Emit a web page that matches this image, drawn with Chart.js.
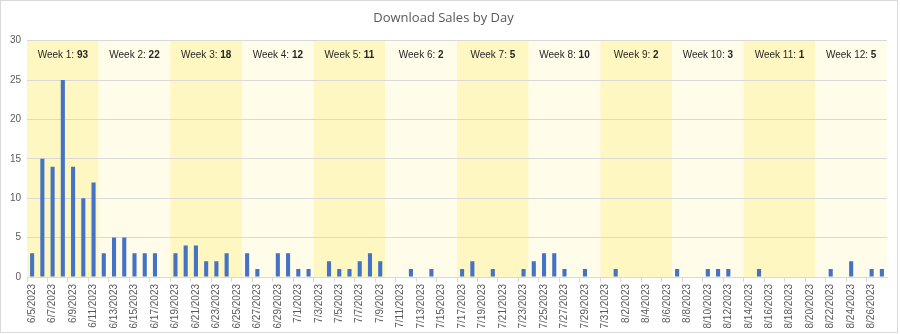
<!DOCTYPE html>
<html>
<head>
<meta charset="utf-8">
<script src="https://cdn.jsdelivr.net/npm/chart.js@4/dist/chart.umd.min.js"></script>
<style>
html,body{margin:0;padding:0;background:#fff;}
#wrap{width:900px;height:334px;position:relative;}
</style>
</head>
<body>
<div id="wrap"><canvas id="c" width="900" height="334"></canvas></div>
<script>
const days = [
"6/5/2023","6/6/2023","6/7/2023","6/8/2023","6/9/2023","6/10/2023","6/11/2023",
"6/12/2023","6/13/2023","6/14/2023","6/15/2023","6/16/2023","6/17/2023","6/18/2023",
"6/19/2023","6/20/2023","6/21/2023","6/22/2023","6/23/2023","6/24/2023","6/25/2023",
"6/26/2023","6/27/2023","6/28/2023","6/29/2023","6/30/2023","7/1/2023","7/2/2023",
"7/3/2023","7/4/2023","7/5/2023","7/6/2023","7/7/2023","7/8/2023","7/9/2023",
"7/10/2023","7/11/2023","7/12/2023","7/13/2023","7/14/2023","7/15/2023","7/16/2023",
"7/17/2023","7/18/2023","7/19/2023","7/20/2023","7/21/2023","7/22/2023","7/23/2023",
"7/24/2023","7/25/2023","7/26/2023","7/27/2023","7/28/2023","7/29/2023","7/30/2023",
"7/31/2023","8/1/2023","8/2/2023","8/3/2023","8/4/2023","8/5/2023","8/6/2023",
"8/7/2023","8/8/2023","8/9/2023","8/10/2023","8/11/2023","8/12/2023","8/13/2023",
"8/14/2023","8/15/2023","8/16/2023","8/17/2023","8/18/2023","8/19/2023","8/20/2023",
"8/21/2023","8/22/2023","8/23/2023","8/24/2023","8/25/2023","8/26/2023","8/27/2023"
];
const sales = [
3,15,14,25,14,10,12,
3,5,5,3,3,3,0,
3,4,4,2,2,3,0,
3,1,0,3,3,1,1,
0,2,1,1,2,3,2,
0,0,1,0,1,0,0,
1,2,0,1,0,0,1,
2,3,3,1,0,1,0,
0,1,0,0,0,0,0,
1,0,0,1,1,1,0,
0,1,0,0,0,0,0,
0,1,0,2,0,1,1
];
const weekNames = ["Week 1","Week 2","Week 3","Week 4","Week 5","Week 6","Week 7","Week 8","Week 9","Week 10","Week 11","Week 12"];
const weekTotals = [93,22,18,12,11,2,5,10,2,3,1,5];
const weekStarts = [0,7,14,21,28,35,42,49,56,63,70,77];
const daysPerWeek = 7;

const bandPlugin = {
  id:'bands',
  beforeDraw(chart){
    const ctx = chart.ctx, x = chart.scales.x, a = chart.chartArea;
    const w = (x.right - x.left) / days.length;
    ctx.save();
    weekStarts.forEach((s,i)=>{
      const l = x.getPixelForValue(s) - w/2;
      const r = x.getPixelForValue(s + daysPerWeek - 1) + w/2;
      ctx.fillStyle = i % 2 === 0 ? '#FFF7C1' : '#FFFDE9';
      ctx.fillRect(l, a.top, r - l, a.bottom - a.top);
    });
    ctx.restore();
  },
  afterDatasetsDraw(chart){
    const ctx = chart.ctx, x = chart.scales.x, a = chart.chartArea;
    const w = (x.right - x.left) / days.length;
    ctx.save();
    ctx.textBaseline = 'middle';
    ctx.fillStyle = '#262626';
    const fN = '10px "Liberation Sans", Arial, sans-serif';
    const fB = 'bold 10px "Liberation Sans", Arial, sans-serif';
    weekStarts.forEach((s,i)=>{
      const l = x.getPixelForValue(s) - w/2;
      const r = x.getPixelForValue(s + daysPerWeek - 1) + w/2;
      const cx = (l + r)/2;
      const t1 = weekNames[i] + ': ';
      const t2 = String(weekTotals[i]);
      ctx.font = fN; const w1 = ctx.measureText(t1).width;
      ctx.font = fB; const w2 = ctx.measureText(t2).width;
      const x0 = cx - (w1 + w2)/2;
      ctx.textAlign = 'left';
      ctx.font = fN; ctx.fillText(t1, x0, a.top + 15);
      ctx.font = fB; ctx.fillText(t2, x0 + w1, a.top + 15);
    });
    ctx.restore();
  },
  afterDraw(chart){
    const ctx = chart.ctx;
    ctx.save();
    ctx.strokeStyle = '#d9d9d9';
    ctx.lineWidth = 1;
    ctx.strokeRect(0.5, 0.5, chart.width - 3, chart.height - 2);
    ctx.restore();
  }
};

new Chart(document.getElementById('c'), {
  type:'bar',
  plugins:[bandPlugin],
  data:{
    labels: days,
    datasets:[{
      label:'Sales',
      data: sales,
      backgroundColor:'#4472C4',
      barPercentage:0.4,
      categoryPercentage:1.0
    }]
  },
  options:{
    responsive:false,
    animation:false,
    layout:{padding:{left:0,right:13,top:0,bottom:0}},
    plugins:{
      legend:{display:false},
      tooltip:{enabled:false},
      title:{
        display:true,
        text:'Download Sales by Day',
        color:'#595959',
        font:{family:'"Open Sans", "Liberation Sans", sans-serif', size:13, weight:'normal'},
        padding:{top:10,bottom:15}
      }
    },
    scales:{
      x:{
        offset:true,
        grid:{
          offset:true,
          drawOnChartArea:false,
          drawTicks:true,
          tickLength:5,
          color:(c)=> (c.index % 2 === 0 ? '#d9d9d9' : 'rgba(0,0,0,0)')
        },
        border:{display:true,color:'#d9d9d9'},
        ticks:{
          autoSkip:false,
          maxRotation:90,
          minRotation:90,
          padding:2,
          color:'#595959',
          font:{family:'"Liberation Sans", Arial, sans-serif', size:10},
          callback:function(v,i){ return i % 2 === 0 ? days[i] : ''; }
        },
        afterFit:(s)=>{ s.height = 57; }
      },
      y:{
        min:0,max:30,
        ticks:{stepSize:5,color:'#595959',padding:6,
          font:{family:'"Liberation Sans", Arial, sans-serif', size:10}},
        grid:{color:'#d9d9d9',drawTicks:false},
        border:{display:false},
        afterFit:(s)=>{ s.width = 27; }
      }
    }
  }
});
</script>
</body>
</html>
